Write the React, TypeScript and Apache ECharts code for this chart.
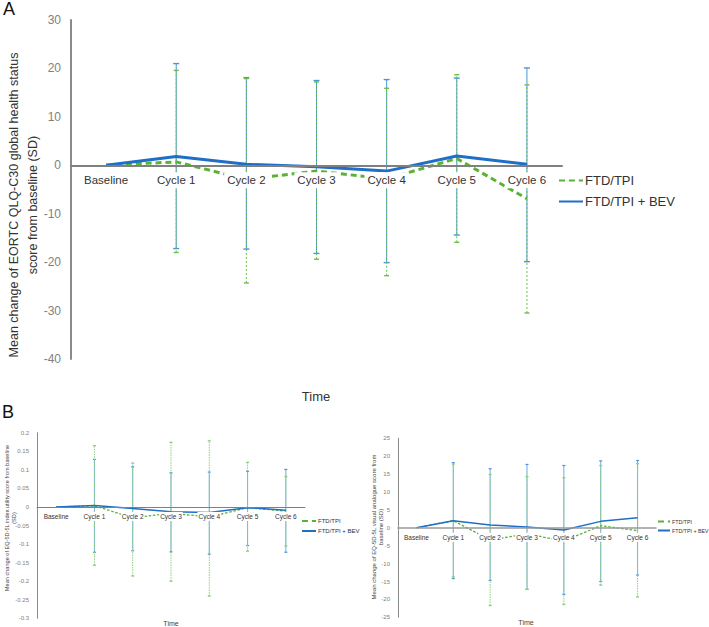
import React, { useEffect, useRef } from "react";
import * as echarts from "echarts";

const categories = ["Baseline", "Cycle 1", "Cycle 2", "Cycle 3", "Cycle 4", "Cycle 5", "Cycle 6"];
const cycleIdx = [1, 2, 3, 4, 5, 6];

// Panel A: EORTC QLQ-C30 global health status
const aFtd = [0, 0.7, -2.9, -1.2, -2.8, 1.4, -6.9];
const aBev = [0, 1.8, 0.2, -0.3, -1.2, 1.9, 0.2];
const aFtdHigh = [19.6, 17.9, 17.2, 15.9, 18.7, 16.6];
const aFtdLow = [-18.0, -24.3, -19.4, -22.8, -15.9, -30.5];
const aBevHigh = [21.0, 18.1, 17.5, 17.7, 18.0, 20.1];
const aBevLow = [-17.2, -17.3, -18.2, -20.1, -14.4, -19.9];

// Panel B left: EQ-5D-5L index utility
const bFtd = [0, 0.003, -0.029, -0.017, -0.027, -0.002, -0.011];
const bBev = [0, 0.004, -0.004, -0.013, -0.015, -0.002, -0.009];
const bFtdHigh = [0.165, 0.118, 0.174, 0.178, 0.12, 0.082];
const bFtdLow = [-0.157, -0.186, -0.2, -0.24, -0.119, -0.105];
const bBevHigh = [0.128, 0.108, 0.092, 0.094, 0.096, 0.101];
const bBevLow = [-0.122, -0.118, -0.121, -0.127, -0.104, -0.122];

// Panel B right: EQ-5D-5L VAS
const cFtd = [0, 2.0, -3.4, -1.7, -3.7, 0.6, -0.8];
const cBev = [0, 2.0, 0.8, 0.2, -0.6, 1.8, 2.8];
const cFtdHigh = [17.8, 14.9, 14.3, 14.0, 17.4, 17.9];
const cFtdLow = [-13.7, -21.7, -17.2, -21.4, -16.0, -19.3];
const cBevHigh = [18.2, 16.5, 17.7, 17.4, 18.7, 18.8];
const cBevLow = [-14.2, -14.7, -17.2, -18.6, -15.0, -13.2];

const FONT = "Liberation Sans, Arial, sans-serif";
const GREEN = "#5ab234";
const BLUE = "#1f6fc6";
const EB_GREEN = "#6cbf4a";
const EB_BLUE = "#4a94dc";

type GridDef = { left: number; top: number; width: number; height: number; min: number; max: number };
const grids: GridDef[] = [
  { left: 71, top: 20, width: 491, height: 339, min: -40, max: 30 },
  { left: 37, top: 432.7, width: 268, height: 185.6, min: -0.3, max: 0.2 },
  { left: 398, top: 438.3, width: 258, height: 179, min: -25, max: 25 },
];
// offset that moves the category axis from the grid bottom up to the value 0
const zeroOffset = (g: GridDef) => -(g.height * (0 - g.min)) / (g.max - g.min);

function errData(low: number[], high: number[]) {
  return cycleIdx.map((c, i) => [c, low[i], high[i]]);
}

function errSeries(idx: number, low: number[], high: number[], color: string, width: number, dash: number[] | null, cap: number) {
  return {
    type: "custom",
    xAxisIndex: idx,
    yAxisIndex: idx,
    z: 1,
    silent: true,
    data: errData(low, high),
    renderItem: (params: any, api: any) => {
      const x = api.value(0);
      const lo = api.coord([x, api.value(1)]);
      const hi = api.coord([x, api.value(2)]);
      const style: any = { stroke: color, lineWidth: width, fill: null };
      if (dash) style.lineDash = dash;
      const capStyle: any = { stroke: color, lineWidth: width + 0.4, fill: null };
      return {
        type: "group",
        children: [
          { type: "line", shape: { x1: lo[0], y1: lo[1], x2: hi[0], y2: hi[1] }, style },
          { type: "line", shape: { x1: lo[0] - cap, y1: lo[1], x2: lo[0] + cap, y2: lo[1] }, style: capStyle },
          { type: "line", shape: { x1: hi[0] - cap, y1: hi[1], x2: hi[0] + cap, y2: hi[1] }, style: capStyle },
        ],
      };
    },
  };
}

function lineSeries(idx: number, name: string, data: number[], color: string, width: number, dashed: boolean) {
  return {
    type: "line",
    name,
    xAxisIndex: idx,
    yAxisIndex: idx,
    data,
    symbol: "none",
    showSymbol: false,
    z: 3,
    lineStyle: { color, width, type: dashed ? [width * 2, width * 1.3] : "solid" },
    itemStyle: { color },
  };
}

export default function App() {
  const ref = useRef<HTMLDivElement>(null);
  useEffect(() => {
    if (!ref.current) return;
    const chart = echarts.init(ref.current, null, { renderer: "svg" });

    const xAxisCommon = (idx: number, fontSize: number, margin: number, lineW: number, lineColor: string, pad: number[]) => ({
      type: "category",
      gridIndex: idx,
      data: categories,
      z: 5,
      offset: zeroOffset(grids[idx]),
      axisLine: { onZero: false, lineStyle: { color: lineColor, width: lineW } },
      axisTick: { show: false },
      axisLabel: {
        interval: 0,
        fontSize,
        margin,
        color: "#333",
        fontFamily: FONT,
        backgroundColor: "#fff",
        padding: pad,
      },
      splitLine: { show: false },
    });

    const yAxisCommon = (idx: number, interval: number, fontSize: number, margin: number, lineW: number, fmt?: (v: number) => string) => ({
      type: "value",
      gridIndex: idx,
      min: grids[idx].min,
      max: grids[idx].max,
      interval,
      axisLine: { show: true, lineStyle: { color: "#8a8a8a", width: lineW } },
      axisTick: { show: false },
      splitLine: { show: false },
      axisLabel: {
        fontSize,
        margin,
        color: "#808080",
        fontFamily: FONT,
        formatter: fmt,
      },
    });

    const legendCommon = (left: number, top: number, w: number, h: number, gap: number, fontSize: number) => ({
      orient: "vertical",
      left,
      top,
      itemWidth: w,
      itemHeight: h,
      itemGap: gap,
      padding: 0,
      itemStyle: { opacity: 0 },
      data: ["FTD/TPI", "FTD/TPI + BEV"],
      textStyle: { fontSize, color: "#333", fontFamily: FONT, padding: [0, 0, 0, -3] },
    });

    const option: any = {
      animation: false,
      backgroundColor: "#fff",
      grid: grids.map((g) => ({ left: g.left, top: g.top, width: g.width, height: g.height })),
      xAxis: [
        xAxisCommon(0, 11.5, 7, 2, "#808080", [2, 3]),
        xAxisCommon(1, 6.5, 5, 1, "#808080", [1, 1]),
        xAxisCommon(2, 6.5, 5, 1.5, "#9a9a9a", [1, 1]),
      ],
      yAxis: [
        yAxisCommon(0, 10, 12, 10, 2),
        yAxisCommon(1, 0.05, 6, 8, 1, (v: number) => String(Math.round(v * 100) / 100)),
        yAxisCommon(2, 5, 6, 8, 1),
      ],
      legend: [
        legendCommon(558, 174, 24, 12, 8, 13),
        legendCommon(301, 518, 14, 6, 4, 6),
        legendCommon(657, 519, 12, 6, 4, 5.3),
      ],
      series: [
        errSeries(0, aBevLow, aBevHigh, EB_BLUE, 1, null, 3),
        errSeries(0, aFtdLow, aFtdHigh, EB_GREEN, 1, [2, 2], 2.5),
        lineSeries(0, "FTD/TPI", aFtd, GREEN, 3, true),
        lineSeries(0, "FTD/TPI + BEV", aBev, BLUE, 3, false),

        errSeries(1, bBevLow, bBevHigh, EB_BLUE, 0.8, null, 1.5),
        errSeries(1, bFtdLow, bFtdHigh, "#8fcf7f", 1, [1.5, 1], 1.5),
        lineSeries(1, "FTD/TPI", bFtd, GREEN, 1.3, true),
        lineSeries(1, "FTD/TPI + BEV", bBev, BLUE, 1.5, false),

        errSeries(2, cBevLow, cBevHigh, EB_BLUE, 0.8, null, 1.5),
        errSeries(2, cFtdLow, cFtdHigh, "#8fcf7f", 1, [1.5, 1], 1.5),
        lineSeries(2, "FTD/TPI", cFtd, GREEN, 1.3, true),
        lineSeries(2, "FTD/TPI + BEV", cBev, BLUE, 1.5, false),
      ],
      graphic: [
        { type: "text", left: 3, top: 0, style: { text: "A", fontSize: 18, fill: "#111", fontFamily: FONT } },
        { type: "text", left: 2, top: 403, style: { text: "B", fontSize: 18, fill: "#111", fontFamily: FONT } },
        { type: "text", x: 316, y: 396, style: { text: "Time", fontSize: 13, fill: "#333", fontFamily: FONT, align: "center", verticalAlign: "middle" } },
        { type: "text", x: 171, y: 623, style: { text: "Time", fontSize: 7, fill: "#444", fontFamily: FONT, align: "center", verticalAlign: "middle" } },
        { type: "text", x: 526, y: 622, style: { text: "Time", fontSize: 7, fill: "#444", fontFamily: FONT, align: "center", verticalAlign: "middle" } },
        {
          type: "text",
          x: 23.5,
          y: 205,
          rotation: Math.PI / 2,
          style: {
            text: "Mean change of EORTC QLQ-C30 global health status\nscore from baseline (SD)",
            fontSize: 12.5,
            lineHeight: 19,
            fill: "#333",
            fontFamily: FONT,
            align: "center",
            verticalAlign: "middle",
          },
        },
        {
          type: "text",
          x: 10.5,
          y: 518,
          rotation: Math.PI / 2,
          style: {
            text: "Mean change of EQ-5D-5L index utility score from baseline\n(SD)",
            fontSize: 5.6,
            lineHeight: 7,
            fill: "#444",
            fontFamily: FONT,
            align: "center",
            verticalAlign: "middle",
          },
        },
        {
          type: "text",
          x: 377.5,
          y: 527,
          rotation: Math.PI / 2,
          style: {
            text: "Mean change of EQ-5D-5L visual analogue score from\nbaseline (SD)",
            fontSize: 6,
            lineHeight: 7.5,
            fill: "#444",
            fontFamily: FONT,
            align: "center",
            verticalAlign: "middle",
          },
        },
      ],
    };
    chart.setOption(option);
    return () => chart.dispose();
  }, []);

  return (
    <div
      ref={ref}
      style={{ position: "fixed", left: 0, top: 0, width: 709, height: 627, background: "#fff" }}
    />
  );
}
